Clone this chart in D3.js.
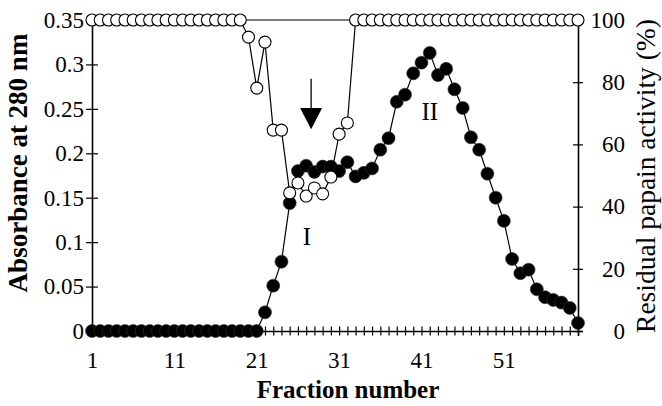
<!DOCTYPE html>
<html>
<head lang="en">
    <meta charset="UTF-8">
    <title>Gel filtration profile</title>
    <script type="text/javascript" src="https://cdn.jsdelivr.net/npm/d3@7/dist/d3.min.js"></script>
    <style>
        body { margin: 0; background: #fff; }
        svg text { font-family: "Liberation Serif", "Times New Roman", serif; fill: #000; }
    </style>
</head>
<body>

<svg width="662" height="406"></svg>

<script>
    // fraction numbers 1..60
    var fractions = d3.range(1, 61);

    // absorbance at 280 nm (filled circles)
    var absorbance = [
        0, 0, 0, 0, 0, 0, 0, 0, 0, 0,
        0, 0, 0, 0, 0, 0, 0, 0, 0, 0,
        0, 0.021, 0.051, 0.078, 0.144, 0.180, 0.186, 0.179, 0.185, 0.185,
        0.180, 0.190, 0.174, 0.178, 0.183, 0.204, 0.217, 0.258, 0.266, 0.290,
        0.302, 0.313, 0.288, 0.295, 0.272, 0.251, 0.218, 0.204, 0.177, 0.150,
        0.124, 0.081, 0.065, 0.069, 0.047, 0.038, 0.035, 0.032, 0.026, 0.009
    ];

    // residual papain activity in % (open circles)
    var activity = [
        100, 100, 100, 100, 100, 100, 100, 100, 100, 100,
        100, 100, 100, 100, 100, 100, 100, 100, 100, 94.5,
        78.1, 92.9, 64.6, 64.6, 44.4, 47.6, 43.4, 46.0, 44.1, 49.5,
        63.3, 66.9, 100, 100, 100, 100, 100, 100, 100, 100,
        100, 100, 100, 100, 100, 100, 100, 100, 100, 100,
        100, 100, 100, 100, 100, 100, 100, 100, 100, 100
    ];

    var xLabels = [1, 11, 21, 31, 41, 51];
    var leftTicks = [0, 0.05, 0.1, 0.15, 0.2, 0.25, 0.3, 0.35];
    var rightTicks = [0, 20, 40, 60, 80, 100];

    // peak labels and the arrow (fraction, absorbance)
    var peaks = [{name: "I", f: 27.1, v: 0.097}, {name: "II", f: 42.0, v: 0.237}];
    var arrow = {f: 27.6, top: 0.284, base: 0.251, tip: 0.227};

    var svg = d3.select("svg");

    var x = d3.scaleLinear().domain([1, 60]).range([92, 578]);
    var yL = d3.scaleLinear().domain([0, 0.35]).range([331, 20]);
    var yR = d3.scaleLinear().domain([0, 100]).range([331, 20]);

    // top border
    svg.append("line")
            .attr("x1", x(1)).attr("x2", x(60))
            .attr("y1", yL(0.35)).attr("y2", yL(0.35))
            .attr("stroke", "#000").attr("stroke-width", 1.2);

    // x axis, a cross tick at every fraction
    var gx = svg.append("g").attr("transform", "translate(0," + yL(0) + ")")
            .call(d3.axisBottom(x).tickValues(fractions).tickSize(5).tickFormat(function (d) {
                return xLabels.indexOf(d) >= 0 ? d : "";
            }));
    gx.select(".domain").attr("stroke-width", 1.6);
    gx.selectAll(".tick line").attr("y1", -4.5).attr("y2", 4.5).attr("stroke-width", 1.2);
    gx.selectAll(".tick text").attr("y", 37).attr("dy", 0).style("font-size", "23px");

    // left axis
    var gl = svg.append("g").attr("transform", "translate(" + x(1) + ",0)")
            .call(d3.axisLeft(yL).tickValues(leftTicks).tickSize(6).tickFormat(d3.format("")));
    gl.select(".domain").attr("stroke-width", 1.6);
    gl.selectAll(".tick line").attr("x1", 6).attr("x2", -6).attr("stroke-width", 1.2);
    gl.selectAll(".tick text").attr("x", -8).style("font-size", "23px");

    // right axis
    var gr = svg.append("g").attr("transform", "translate(" + x(60) + ",0)")
            .call(d3.axisRight(yR).tickValues(rightTicks).tickSize(5));
    gr.select(".domain").attr("stroke-width", 1.6);
    gr.selectAll(".tick line").attr("x1", -5).attr("x2", 5).attr("stroke-width", 1.2);
    gr.selectAll(".tick text").attr("x", 47).attr("text-anchor", "end").style("font-size", "23px");

    svg.selectAll(".domain, .tick line").attr("stroke", "#000");
    svg.selectAll("g").attr("font-family", null).attr("font-size", null);

    // absorbance series
    var lineA = d3.line().x(function (d, i) { return x(fractions[i]); }).y(function (d) { return yL(d); });
    svg.append("path").datum(absorbance)
            .attr("d", lineA).attr("fill", "none").attr("stroke", "#000").attr("stroke-width", 1.2);
    svg.selectAll("circle.abs").data(absorbance).enter().append("circle")
            .attr("class", "abs")
            .attr("cx", function (d, i) { return x(fractions[i]); })
            .attr("cy", function (d) { return yL(d); })
            .attr("r", 6.5)
            .attr("fill", "#000")
            .attr("stroke", "#333").attr("stroke-width", 0.6);

    // activity series
    var lineR = d3.line().x(function (d, i) { return x(fractions[i]); }).y(function (d) { return yR(d); });
    svg.append("path").datum(activity)
            .attr("d", lineR).attr("fill", "none").attr("stroke", "#000").attr("stroke-width", 1.2);
    svg.selectAll("circle.act").data(activity).enter().append("circle")
            .attr("class", "act")
            .attr("cx", function (d, i) { return x(fractions[i]); })
            .attr("cy", function (d) { return yR(d); })
            .attr("r", 6)
            .attr("fill", "#fff")
            .attr("stroke", "#000").attr("stroke-width", 1.1);

    // arrow
    svg.append("line")
            .attr("x1", x(arrow.f)).attr("x2", x(arrow.f))
            .attr("y1", yL(arrow.top)).attr("y2", yL(arrow.base))
            .attr("stroke", "#000").attr("stroke-width", 1.3);
    svg.append("path")
            .attr("d", "M" + (x(arrow.f) - 11) + "," + yL(arrow.base) +
                    "L" + (x(arrow.f) + 11) + "," + yL(arrow.base) +
                    "L" + x(arrow.f) + "," + yL(arrow.tip) + "Z")
            .attr("fill", "#000");

    // peak labels
    svg.selectAll("text.peak").data(peaks).enter().append("text")
            .attr("class", "peak")
            .attr("x", function (d) { return x(d.f); })
            .attr("y", function (d) { return yL(d.v); })
            .attr("text-anchor", "middle")
            .style("font-size", "25px")
            .text(function (d) { return d.name; });

    // axis titles
    svg.append("text")
            .attr("x", 348).attr("y", 398)
            .attr("text-anchor", "middle")
            .style("font-size", "25px").style("font-weight", "bold")
            .text("Fraction number");

    svg.append("text")
            .attr("transform", "translate(27,163) rotate(-90)")
            .attr("text-anchor", "middle")
            .style("font-size", "27px").style("font-weight", "bold")
            .text("Absorbance at 280 nm");

    svg.append("text")
            .attr("transform", "translate(655,176) rotate(-90)")
            .attr("text-anchor", "middle")
            .style("font-size", "27.5px")
            .text("Residual papain activity (%)");
</script>
</body>
</html>
